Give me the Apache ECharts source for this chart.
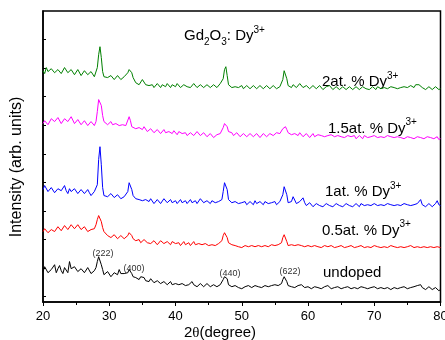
<!DOCTYPE html>
<html><head><meta charset="utf-8">
<script src="https://cdn.jsdelivr.net/npm/echarts@6/dist/echarts.min.js"></script>
<style>html,body{margin:0;padding:0;background:#fff}#c{width:445px;height:340px}</style>
</head><body><div id="c"></div>
<script>
// 2theta positions (degrees)
const twoTheta = [
20,20.25,20.5,20.75, 21,21.25,21.5,21.75, 22,22.25,22.5,22.75, 23,23.25,23.5,23.75,
24,24.25,24.5,24.75, 25,25.25,25.5,25.75, 26,26.25,26.5,26.75, 27,27.25,27.5,27.75,
28,28.2,28.4,28.6,28.8,29,29.2,
29.5,29.75,30,30.25,30.5,30.75,31,31.25,31.5,31.75,32,32.25,32.5,
32.8,33,33.2,33.4,33.6,
34,34.25,34.5,34.75, 35,35.25,35.5,35.75, 36,36.25,36.5,36.75, 37,37.25,37.5,37.75,
38,38.25,38.5,38.75, 39,39.25,39.5,39.75, 40,40.25,40.5,40.75, 41,41.25,41.5,41.75,
42,42.25,42.5,42.75, 43,43.25,43.5,43.75, 44,44.25,44.5,44.75, 45,45.25,45.5,45.75,
46,46.25,46.5,46.75,
47,47.2,47.4,47.6,47.8,48,
48.25,48.5,48.75, 49,49.25,49.5,49.75, 50,50.25,50.5,50.75, 51,51.25,51.5,51.75,
52,52.25,52.5,52.75, 53,53.25,53.5,53.75, 54,54.25,54.5,54.75, 55,55.25,55.5,55.75,
56,56.2,56.4,56.6,56.8,57,
57.25,57.5,57.75, 58,58.25,58.5,58.75, 59,59.25,59.5,59.75, 60,60.25,60.5,60.75,
61,61.25,61.5,61.75, 62,62.25,62.5,62.75, 63,63.25,63.5,63.75, 64,64.25,64.5,64.75,
65,65.25,65.5,65.75, 66,66.25,66.5,66.75, 67,67.25,67.5,67.75, 68,68.25,68.5,68.75,
69,69.25,69.5,69.75, 70,70.25,70.5,70.75, 71,71.25,71.5,71.75, 72,72.25,72.5,72.75,
73,73.25,73.5,73.75, 74,74.25,74.5,74.75, 75,75.25,75.5,75.75, 76,76.25,76.5,76.75,
77,77.25,77.5,77.75, 78,78.25,78.5,78.75, 79,79.25,79.5,79.75, 80];

// stacked intensities (arb. units)
const dy2 = [
791,781,802,788, 784,798,798,784, 781,795,795,781, 784,802,798,784,
781,795,791,777, 777,795,791,774, 781,791,788,777, 774,788,781,770,
777,802,847,875,837,788,770,
774,767,763,774,770,760,763,774,767,760,760,770,770,
784,795,798,784,767,
749,753,742,746, 760,753,742,735, 739,746,742,732, 735,746,739,732,
742,735,735,746, 739,732,742,735, 735,746,739,732, 732,742,739,735,
742,732,735,746, 739,732,735,742, 742,732,735,742, 739,732,735,742,
739,732,735,746,
742,763,795,805,774,742,
735,732,739, 735,728,732,739, 739,728,732,739, 735,728,732,739,
739,728,732,739, 735,728,728,739, 735,728,732,739, 735,728,732,735,
739,760,791,798,763,739,
735,732,742, 739,732,735,746, 742,732,732,739, 735,728,728,739,
735,728,732,739, 735,725,728,735, 732,739,735,725, 728,735,732,725,
728,735,735,725, 728,735,732,725, 728,735,735,725, 728,735,732,728,
735,725,728,735, 732,725,735,728, 728,735,732,725, 728,735,735,728,
732,725,728,735, 732,725,735,728, 732,739,739,732, 732,742,739,742,
739,732,732,725, 728,735,732,725, 728,735,735,725, 728];

const dy15 = [
606,616,616,602, 609,623,627,613, 613,627,620,606, 609,623,630,613,
613,630,623,606, 609,620,616,602, 606,616,609,599, 602,613,606,599,
613,648,690,697,669,634,613,
609,602,606,613,602,595,606,609,599,595,602,606,599,
602,630,616,595,592,
588,581,592,585, 585,595,588,578, 581,588,585,574, 578,585,581,571,
578,585,574,567, 578,571,571,581, 574,567,578,571, 571,578,574,564,
567,574,571,564, 567,578,574,564, 564,574,571,560, 567,571,564,557,
560,567,567,571,
574,592,606,609,595,578,
571,574,564, 567,574,571,560, 564,571,567,560, 564,571,571,560,
564,571,567,557, 560,571,567,560, 564,571,571,564, 567,574,574,571,
578,588,595,595,585,574,
571,567,574, 571,564,564,574, 567,560,560,571, 567,557,564,571,
560,553,567,564, 564,557,560,567, 564,557,567,560, 560,553,564,560,
560,567,557,553, 564,557,560,567, 564,553,557,564, 560,553,564,560,
557,564,560,553, 564,557,557,564, 560,553,557,564, 564,557,560,553,
557,564,560,553, 557,564,553,557, 560,553,557,564, 553,560,560,564,
557,550,553,560, 560,553,557,550, 553,560,560,550, 553];

const dy1 = [
375,389,382,368, 371,382,378,364, 368,378,385,371, 375,389,371,361,
378,368,368,378, 375,361,364,375, 371,361,368,375, 364,354,361,368,
368,392,480,525,462,382,354,
361,350,354,361,357,347,350,357,354,343,347,350,347,
368,399,403,375,354,
343,336,340,347, 336,329,340,333, 333,343,336,326, 329,340,336,326,
333,343,340,329, 333,340,329,336, 336,326,333,340, 329,336,336,326,
333,340,329,336, 336,326,333,343, 340,329,329,336, 333,326,336,343,
329,336,333,340,
340,368,399,406,375,340,
333,329,322, 333,326,326,333, 329,336,333,322, 326,333,329,322,
336,326,326,333, 329,322,333,336, 326,319,329,333, 333,322,329,333,
336,357,385,389,357,329,
322,333,350, 343,326,326,333, 340,346,329,319, 322,329,326,315,
319,326,326,319, 322,315,319,326, 326,319,322,315, 319,326,326,319,
322,315,319,326, 322,319,326,315, 319,326,322,315, 326,319,319,326,
322,315,319,326, 326,319,319,326, 322,315,319,326, 326,319,322,315,
319,326,322,315, 319,326,326,319, 322,315,319,326, 322,315,326,333,
340,322,322,315, 319,326,322,315, 319,326,336,322, 319];

const dy05 = [
228,238,235,224, 224,235,238,228, 231,245,242,231, 235,249,245,235,
238,252,249,238, 242,252,245,235, 235,245,238,228, 224,235,231,238,
252,270,284,280,263,242,228,
221,214,214,207,210,217,214,203,207,214,210,203,207,
214,224,224,214,203,
196,203,200,189, 193,200,196,189, 193,186,189,196, 193,182,189,196,
193,186,186,193, 189,182,193,186, 186,193,189,179, 186,193,182,189,
189,179,186,193, 182,189,186,179, 182,189,186,179, 179,186,182,175,
179,186,186,193,
196,214,224,224,207,189,
186,182,175, 179,172,175,182, 172,168,179,175, 175,182,179,172,
175,182,179,172, 175,182,179,172, 175,182,182,175, 179,186,182,186,
189,207,217,214,193,179,
175,182,175, 179,186,182,175, 179,172,175,182, 179,172,175,182,
179,172,175,179, 172,179,179,172, 175,182,179,172, 172,179,175,168,
179,172,172,179, 175,168,179,175, 172,179,175,168, 179,172,172,179,
175,168,172,179, 179,172,175,168, 172,179,175,168, 172,179,179,172,
175,168,172,179, 175,168,172,179, 175,168,179,172, 172,179,175,168,
172,179,175,168, 172,179,175,168, 172,179,175,168, 172];

const undoped = [
88,105,102,84, 81,95,98,112, 84,98,109,91, 81,102,95,84,
123,98,91,105, 102,88,84,98, 98,84,88,102, 95,81,84,91,
102,123,140,137,112,95,77,
74,88,81,70,74,84,88,77,95,81,74,81,77,
84,95,88,81,70,
67,74,60,70, 63,67,56,60, 53,63,56,49, 49,56,53,46,
46,53,49,42, 46,53,42,49, 46,39,42,49, 46,39,39,46,
42,49,53,42, 42,35,39,46, 42,35,39,46, 42,35,35,42,
42,35,39,42,
46,60,70,74,63,42,
39,35,42, 39,32,32,39, 28,35,35,28, 39,32,32,39,
39,32,35,42, 32,39,39,32, 35,42,39,35, 42,35,39,42,
46,60,70,70,53,39,
42,35,28, 32,39,39,46, 42,35,32,39, 35,28,28,35,
35,28,32,39, 28,35,35,28, 39,32,28,35, 32,25,35,32,
28,35,32,25, 35,28,28,35, 32,25,28,35, 35,28,32,25,
28,35,32,25, 35,28,28,35, 32,25,28,35, 32,25,25,32,
32,25,28,35, 32,25,35,28, 28,35,32,25, 35,28,39,35,
42,32,32,25, 28,35,32,25, 25,32,28,21, 25];

const seriesNames = ['2at. % Dy', '1.5at. % Dy', '1at. % Dy', '0.5at. % Dy', 'undoped'];
const seriesColors = ['#008000', '#ff00ff', '#0000ff', '#ff0000', '#000000'];
const seriesData = [dy2, dy15, dy1, dy05, undoped];
const hklLabels = ['(222)', '(400)', '(440)', '(622)'];
const xTicks = [20, 30, 40, 50, 60, 70, 80];
const yTicks = [0,100,200,300,400,500,600,700,800,900];

seriesData.forEach((d, i) => {
  if (d.length !== twoTheta.length) throw new Error('length mismatch ' + seriesNames[i] + ' ' + d.length + ' vs ' + twoTheta.length);
});

const FONT = '"Liberation Sans", Arial, Helvetica, sans-serif';
const chart = echarts.init(document.getElementById('c'), null, {renderer: 'canvas'});

function pairs(v) { return twoTheta.map((x, i) => [x, v[i]]); }

const supRich = {
  sup: {fontSize: 10, lineHeight: 14, verticalAlign: 'top', fontFamily: FONT, fill: '#000', color: '#000'},
  sub: {fontSize: 10, lineHeight: 14, verticalAlign: 'bottom', fontFamily: FONT, fill: '#000', color: '#000'}
};

function richText(text, x, y) {
  return {
    type: 'text', x: x, y: y, silent: true,
    style: {
      text: text, fill: '#000', fontSize: 15, fontFamily: FONT, lineHeight: 22,
      align: 'left', verticalAlign: 'middle', textAlign: 'left', textVerticalAlign: 'middle',
      rich: supRich
    }
  };
}
function smallText(text, x, y) {
  return {
    type: 'text', x: x, y: y, silent: true,
    style: {text: text, fill: '#333', fontSize: 9, fontFamily: FONT,
      align: 'center', verticalAlign: 'middle', textAlign: 'center', textVerticalAlign: 'middle'}
  };
}

const labelPos = [[322, 82], [328, 128.5], [325, 192], [322, 230.5], [323, 273]];
const hklPos = [[103, 254], [134, 269], [230, 274], [290, 272]];

const graphics = [];
graphics.push(richText('Gd{sub|2}O{sub|3}: Dy{sup|3+}', 184, 36));
seriesNames.forEach((n, i) => {
  const t = n === 'undoped' ? n : n + '{sup|3+}';
  graphics.push(richText(t, labelPos[i][0], labelPos[i][1]));
});
hklLabels.forEach((t, i) => graphics.push(smallText(t, hklPos[i][0], hklPos[i][1])));
graphics.push({
  type: 'text', x: 17, y: 167, rotation: Math.PI / 2, silent: true,
  style: {text: 'Intensity (arb. units)', fill: '#000', fontSize: 16, fontFamily: FONT,
    align: 'center', verticalAlign: 'middle', textAlign: 'center', textVerticalAlign: 'middle'}
});
graphics.push({
  type: 'text', x: 220, y: 333, silent: true,
  style: {text: '2{th|θ}(degree)', fill: '#000', fontSize: 15, fontFamily: FONT, lineHeight: 18,
    align: 'center', verticalAlign: 'middle', textAlign: 'center', textVerticalAlign: 'middle',
    rich: {th: {fontSize: 15, fontFamily: '"Liberation Serif", "Times New Roman", serif', fill: '#000', color: '#000'}}}
});

chart.setOption({
  animation: false,
  backgroundColor: '#ffffff',
  grid: {left: 43, right: 4.5, top: 11, bottom: 38, show: true, borderColor: '#000', borderWidth: 1.5,
    backgroundColor: 'transparent', containLabel: false, outerBoundsMode: 'none'},
  xAxis: {
    type: 'value', min: 20, max: 80, interval: 10,
    axisLine: {show: true, onZero: false, lineStyle: {color: '#000', width: 1.5}},
    axisTick: {show: true, inside: false, length: 4, lineStyle: {color: '#000', width: 1}},
    minorTick: {show: true, splitNumber: 2, length: 3, lineStyle: {color: '#000', width: 1}},
    axisLabel: {show: true, color: '#000', fontSize: 13, fontFamily: FONT, margin: 8,
      customValues: xTicks, showMinLabel: true, showMaxLabel: true, hideOverlap: false},
    splitLine: {show: false}, minorSplitLine: {show: false}
  },
  yAxis: {
    type: 'value', min: -18.5, max: 1000,
    axisLine: {show: true, onZero: false, lineStyle: {color: '#000', width: 1.5}},
    axisTick: {show: true, inside: true, length: 3, customValues: yTicks, lineStyle: {color: '#000', width: 1}},
    axisLabel: {show: false},
    splitLine: {show: false}
  },
  graphic: graphics,
  series: seriesData.map((d, i) => ({
    type: 'line', name: seriesNames[i], data: pairs(d), showSymbol: false, symbol: 'none',
    sampling: null, smooth: false, silent: true,
    lineStyle: {color: seriesColors[i], width: 1}, itemStyle: {color: seriesColors[i]},
    emphasis: {disabled: true}
  }))
});
</script></body></html>
